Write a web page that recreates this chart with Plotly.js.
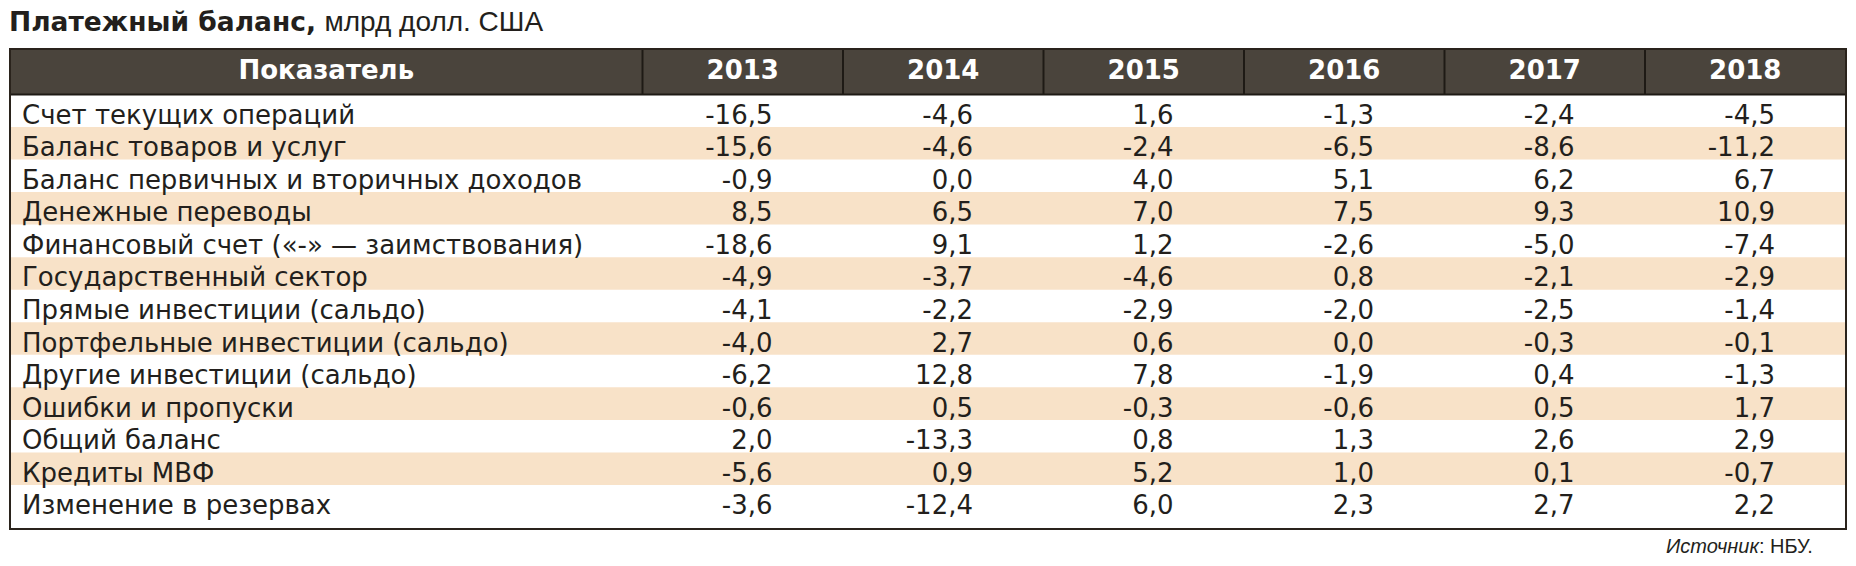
<!DOCTYPE html>
<html><head><meta charset="utf-8">
<script src="https://cdn.plot.ly/plotly-3.0.1.min.js"></script>
<style>html,body{margin:0;padding:0;background:#fff}</style>
</head><body><div id="chart" style="width:1856px;height:566px"></div>
<script>
// ---- data ----
const titleBold = 'Платежный баланс,';
const titleRest = 'млрд долл. США';
const headerLabel = 'Показатель';
const years = ['2013', '2014', '2015', '2016', '2017', '2018'];
const indicators = [
  'Счет текущих операций',
  'Баланс товаров и услуг',
  'Баланс первичных и вторичных доходов',
  'Денежные переводы',
  'Финансовый счет («-» — заимствования)',
  'Государственный сектор',
  'Прямые инвестиции (сальдо)',
  'Портфельные инвестиции (сальдо)',
  'Другие инвестиции (сальдо)',
  'Ошибки и пропуски',
  'Общий баланс',
  'Кредиты МВФ',
  'Изменение в резервах'
];
const v2013 = [-16.5, -15.6, -0.9, 8.5, -18.6, -4.9, -4.1, -4.0, -6.2, -0.6, 2.0, -5.6, -3.6];
const v2014 = [-4.6, -4.6, 0.0, 6.5, 9.1, -3.7, -2.2, 2.7, 12.8, 0.5, -13.3, 0.9, -12.4];
const v2015 = [1.6, -2.4, 4.0, 7.0, 1.2, -4.6, -2.9, 0.6, 7.8, -0.3, 0.8, 5.2, 6.0];
const v2016 = [-1.3, -6.5, 5.1, 7.5, -2.6, 0.8, -2.0, 0.0, -1.9, -0.6, 1.3, 1.0, 2.3];
const v2017 = [-2.4, -8.6, 6.2, 9.3, -5.0, -2.1, -2.5, -0.3, 0.4, 0.5, 2.6, 0.1, 2.7];
const v2018 = [-4.5, -11.2, 6.7, 10.9, -7.4, -2.9, -1.4, -0.1, -1.3, 1.7, 2.9, -0.7, 2.2];
const sourceItalic = 'Источник';
const sourceRest = ': НБУ.';

// ---- geometry / style ----
const W = 1856, H = 566;
const tableL = 10, tableR = 1846, tableT = 49, headB = 94.4, tableB = 529;
const firstColR = 642.5, colW = 200.5, numPad = 130;
const rowH = 32.55, textShift = 6.5;
const FONT = 'DejaVu Sans, Liberation Sans, sans-serif';
const FONT2 = 'Liberation Sans, Arial, sans-serif';
const TXT = '#231f1c';
const HEAD_FILL = '#4a443c';
const BAND = '#f8e2c8';
const LINE = '#2a231c';

const yearValues = [v2013, v2014, v2015, v2016, v2017, v2018];
const nRows = indicators.length;
const rowCenter = i => headB + rowH * (i + 0.5);
const colLeft = j => firstColR + colW * j;
const fmt = v => v.toFixed(1).replace('.', ',');

const traces = [];
// header texts
traces.push({
  type: 'scatter', mode: 'text',
  x: [(tableL + firstColR) / 2].concat(years.map((y, j) => colLeft(j) + colW / 2)),
  y: Array(years.length + 1).fill((tableT + headB) / 2 + 1),
  text: [headerLabel].concat(years),
  textposition: 'middle center',
  textfont: {family: FONT, size: 26, color: '#ffffff', weight: 'bold'},
  hoverinfo: 'skip', showlegend: false, cliponaxis: false
});
// row labels
traces.push({
  type: 'scatter', mode: 'text',
  x: indicators.map(() => tableL + 12),
  y: indicators.map((_, i) => rowCenter(i) + textShift),
  text: indicators,
  textposition: 'middle right',
  textfont: {family: FONT, size: 26, color: TXT},
  hoverinfo: 'skip', showlegend: false, cliponaxis: false
});
// values
yearValues.forEach((vals, j) => {
  traces.push({
    type: 'scatter', mode: 'text',
    x: vals.map(() => colLeft(j) + numPad),
    y: vals.map((_, i) => rowCenter(i) + textShift),
    text: vals.map(fmt),
    textposition: 'middle left',
    textfont: {family: FONT, size: 26, color: TXT},
    hoverinfo: 'skip', showlegend: false, cliponaxis: false
  });
});

const shapes = [];
// bands
for (let i = 1; i < nRows; i += 2) {
  shapes.push({type: 'rect', xref: 'x', yref: 'y', layer: 'below',
    x0: tableL, x1: tableR, y0: headB + rowH * i, y1: headB + rowH * (i + 1),
    fillcolor: BAND, line: {width: 0}});
}
// header
shapes.push({type: 'rect', xref: 'x', yref: 'y', layer: 'below',
  x0: tableL, x1: tableR, y0: tableT, y1: headB, fillcolor: HEAD_FILL, line: {width: 0}});
years.forEach((y, j) => {
  shapes.push({type: 'line', xref: 'x', yref: 'y', layer: 'above',
    x0: colLeft(j), x1: colLeft(j), y0: tableT, y1: headB, line: {color: '#1e1a15', width: 2}});
});
shapes.push({type: 'line', xref: 'x', yref: 'y', layer: 'above',
  x0: tableL, x1: tableR, y0: headB, y1: headB, line: {color: '#1e1a15', width: 2}});
// outer border
shapes.push({type: 'rect', xref: 'x', yref: 'y', layer: 'above',
  x0: tableL, x1: tableR, y0: tableT, y1: tableB, fillcolor: 'rgba(0,0,0,0)', line: {color: LINE, width: 2}});

const layout = {
  width: W, height: H,
  margin: {l: 0, r: 0, t: 0, b: 0, pad: 0},
  paper_bgcolor: '#ffffff', plot_bgcolor: '#ffffff',
  xaxis: {range: [0, W], visible: false, fixedrange: true},
  yaxis: {range: [H, 0], visible: false, fixedrange: true},
  showlegend: false,
  shapes: shapes,
  annotations: [
    {xref: 'x', yref: 'y', x: 7, y: 21, xanchor: 'left', yanchor: 'middle', showarrow: false,
     text: '<b>' + titleBold + '</b> <span style="font-family:Liberation Sans Narrow, Liberation Sans;font-size:28px">' + titleRest + '</span>',
     font: {family: FONT, size: 26.5, color: TXT}},
    {xref: 'x', yref: 'y', x: 1815, y: 546, xanchor: 'right', yanchor: 'middle', showarrow: false,
     text: '<i>' + sourceItalic + '</i>' + sourceRest,
     font: {family: FONT2, size: 20, color: TXT}}
  ]
};

Plotly.newPlot('chart', traces, layout, {staticPlot: true, displayModeBar: false});
</script></body></html>
